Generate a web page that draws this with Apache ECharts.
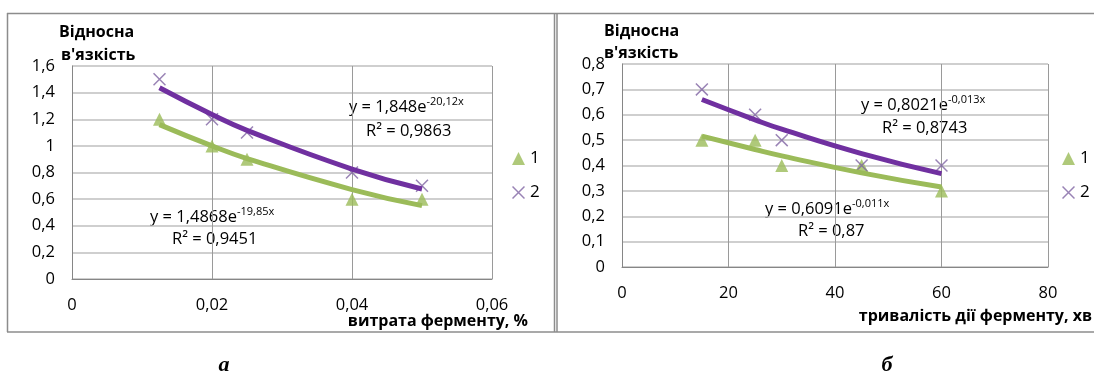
<!DOCTYPE html>
<html>
<head>
<meta charset="utf-8">
<script src="https://cdn.jsdelivr.net/npm/echarts@6/dist/echarts.min.js"></script>
<style>html,body{margin:0;padding:0;background:#fff}#c{width:1094px;height:374px}</style>
</head>
<body>
<div id="c"></div>
<script>
// ---- data ----
const xLeft = [0.0125, 0.02, 0.025, 0.04, 0.05];
const left1 = [1.2, 1.0, 0.9, 0.6, 0.6];
const left2 = [1.5, 1.2, 1.1, 0.8, 0.7];
const leftTrend1 = [1.160, 1.000, 0.905, 0.672, 0.551];
const leftTrend2 = [1.437, 1.236, 1.117, 0.826, 0.676];
const xRight = [15, 25, 30, 45, 60];
const right1 = [0.5, 0.5, 0.4, 0.4, 0.3];
const right2 = [0.7, 0.6, 0.5, 0.4, 0.4];
const rightTrend1 = [0.516, 0.463, 0.438, 0.371, 0.315];
const rightTrend2 = [0.660, 0.580, 0.543, 0.447, 0.368];
const seriesNames = ['1', '2'];
const xTitleLeft = 'витрата ферменту, %';
const xTitleRight = 'тривалість дії ферменту, хв';
const eqLeft2 = ['y = 1,848e', '-20,12x', 'R² = 0,9863'];
const eqLeft1 = ['y = 1,4868e', '-19,85x', 'R² = 0,9451'];
const eqRight2 = ['y = 0,8021e', '-0,013x', 'R² = 0,8743'];
const eqRight1 = ['y = 0,6091e', '-0,011x', 'R² = 0,87'];
const panelLabels = ['а', 'б'];

const FONT = '"Open Sans", "Noto Sans", sans-serif';
const GREEN = '#9BBB59';
const PURPLE_M = '#8064A2';
const PURPLE_L = '#7030A0';
const GRID_H = '#bfbfbf';
const GRID_V = '#9a9a9a';
const CROSS = 'path://M0,0.8L0.8,0L10,9.2L9.2,10Z M9.2,0L10,0.8L0.8,10L0,9.2Z';

const zip = (xs, ys) => xs.map((x, i) => [x, ys[i]]);
const comma = v => String(v).replace('.', ',');

function yAxis(idx, max, interval, dec) {
  return {
    gridIndex: idx, type: 'value', min: 0, max: max, interval: interval,
    axisLine: {show: true, lineStyle: {color: '#868686', width: 1}},
    axisTick: {show: false},
    axisLabel: {color: '#000', fontFamily: FONT, fontSize: 16.5, margin: 17,
      formatter: v => v === 0 ? '0' : comma(Number(v.toFixed(dec)))},
    splitLine: {show: true, lineStyle: {color: GRID_H, width: 1.5}}
  };
}
function xAxis(idx, max, interval, dec, margin) {
  return {
    gridIndex: idx, type: 'value', min: 0, max: max, interval: interval,
    axisLine: {show: true, onZero: false, lineStyle: {color: '#868686', width: 1}},
    axisTick: {show: false},
    axisLabel: {color: '#000', fontFamily: FONT, fontSize: 16.5, margin: margin,
      formatter: v => v === 0 ? '0' : comma(Number(v.toFixed(dec)))},
    splitLine: {show: true, lineStyle: {color: GRID_V, width: 1}}
  };
}
function scatter(name, data, idx, isTri) {
  return {
    name: name, type: 'scatter', xAxisIndex: idx, yAxisIndex: idx, data: data,
    symbol: isTri ? 'triangle' : CROSS, symbolSize: 13,
    itemStyle: {color: isTri ? GREEN : PURPLE_M},
    z: 3
  };
}
function trend(data, idx, color) {
  return {
    type: 'line', xAxisIndex: idx, yAxisIndex: idx, data: data, smooth: true,
    showSymbol: false, symbol: 'none', silent: true,
    lineStyle: {color: color, width: 5}, z: 4
  };
}
function eq(x, y, parts) {
  return {type: 'text', x: x, y: y, style: {
    text: '{m|' + parts[0] + '}{s|' + parts[1] + '}',
    rich: {m: {fontSize: 16.5, fontFamily: FONT, fill: '#000'},
           s: {fontSize: 11, fontFamily: FONT, fill: '#000', padding: [0, 0, 11, 0]}},
    align: 'left', verticalAlign: 'middle'}};
}
function txt(x, y, text, opts) {
  return {type: 'text', x: x, y: y, style: Object.assign({
    text: text, fontSize: 16.5, fontFamily: FONT, fill: '#000', align: 'left', verticalAlign: 'middle'}, opts || {})};
}

const chart = echarts.init(document.getElementById('c'), null, {renderer: 'canvas'});
chart.setOption({
  animation: false,
  backgroundColor: '#fff',
  grid: [
    {left: 72, top: 66, width: 420, height: 213},
    {left: 622, top: 64, width: 426, height: 203}
  ],
  xAxis: [xAxis(0, 0.06, 0.02, 2, 18), xAxis(1, 80, 20, 0, 18)],
  yAxis: [yAxis(0, 1.6, 0.2, 1), yAxis(1, 0.8, 0.1, 1)],
  legend: [
    {data: seriesNames, orient: 'vertical', left: 507, top: 145, itemWidth: 13, itemHeight: 13, itemGap: 17,
     textStyle: {fontFamily: FONT, fontSize: 17, color: '#000'}, selectedMode: false},
    {data: seriesNames, orient: 'vertical', left: 1057, top: 145, itemWidth: 13, itemHeight: 13, itemGap: 17,
     textStyle: {fontFamily: FONT, fontSize: 17, color: '#000'}, selectedMode: false}
  ],
  series: [
    scatter(seriesNames[0], zip(xLeft, left1), 0, true),
    scatter(seriesNames[1], zip(xLeft, left2), 0, false),
    trend(zip(xLeft, leftTrend1), 0, GREEN),
    trend(zip(xLeft, leftTrend2), 0, PURPLE_L),
    scatter(seriesNames[0], zip(xRight, right1), 1, true),
    scatter(seriesNames[1], zip(xRight, right2), 1, false),
    trend(zip(xRight, rightTrend1), 1, GREEN),
    trend(zip(xRight, rightTrend2), 1, PURPLE_L)
  ],
  graphic: [
    // panel frames
    {type: 'line', shape: {x1: 7, y1: 13.5, x2: 1094, y2: 13.5}, style: {stroke: '#8c8c8c', lineWidth: 1.5}},
    {type: 'line', shape: {x1: 7, y1: 332, x2: 1094, y2: 332}, style: {stroke: '#8c8c8c', lineWidth: 1.5}},
    {type: 'line', shape: {x1: 7.5, y1: 13, x2: 7.5, y2: 332}, style: {stroke: '#8c8c8c', lineWidth: 1.5}},
    {type: 'line', shape: {x1: 554.5, y1: 13, x2: 554.5, y2: 332}, style: {stroke: '#8c8c8c', lineWidth: 1.5}},
    {type: 'line', shape: {x1: 557, y1: 13, x2: 557, y2: 332}, style: {stroke: '#8c8c8c', lineWidth: 1.5}},
    // axis titles
    txt(59, 32, 'Відносна', {fontWeight: 'bold', fontSize: 16}),
    txt(61, 55, 'в\'язкість', {fontWeight: 'bold', fontSize: 16}),
    txt(604, 31, 'Відносна', {fontWeight: 'bold', fontSize: 16}),
    txt(604, 53, 'в\'язкість', {fontWeight: 'bold', fontSize: 16}),
    txt(528, 321, xTitleLeft, {fontWeight: 'bold', fontSize: 16, align: 'right'}),
    txt(1092, 316, xTitleRight, {fontWeight: 'bold', fontSize: 16, align: 'right'}),
    // equations
    eq(349, 107, eqLeft2), txt(366, 131, eqLeft2[2]),
    eq(150, 217, eqLeft1), txt(172, 239, eqLeft1[2]),
    eq(861, 105, eqRight2), txt(882, 128, eqRight2[2]),
    eq(765, 209, eqRight1), txt(798, 231, eqRight1[2]),
    // panel labels
    txt(224, 365, panelLabels[0], {fontFamily: '"Liberation Serif", "DejaVu Serif", serif', fontWeight: 'bold', fontStyle: 'italic', fontSize: 22, align: 'center'}),
    txt(887, 365, panelLabels[1], {fontFamily: '"Liberation Serif", "DejaVu Serif", serif', fontWeight: 'bold', fontStyle: 'italic', fontSize: 22, align: 'center'})
  ]
});
</script>
</body>
</html>
